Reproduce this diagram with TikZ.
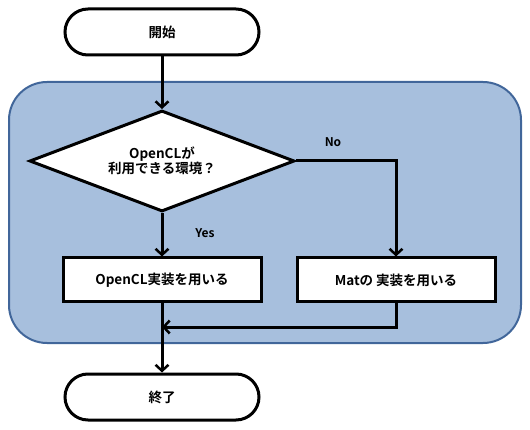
\documentclass[tikz,border=0pt]{standalone}
\usepackage{fontspec}
\setmainfont{Noto Sans CJK JP}[BoldFont={Noto Sans CJK JP Bold}]
\usetikzlibrary{shapes.geometric,arrows.meta}
\definecolor{panelfill}{HTML}{A7BFDD}
\definecolor{panelline}{HTML}{41669A}
\tikzset{
  every node/.style={font=\fontsize{13.5}{16}\selectfont\bfseries},
  term/.style={draw=black,line width=3pt,fill=white,rounded corners=23pt,minimum width=194pt,minimum height=46pt,inner sep=0pt},
  procbox/.style={draw=black,line width=3pt,fill=white,minimum width=198pt,minimum height=44pt,inner sep=0pt},
  decision/.style={draw=black,line width=3pt,fill=white,diamond,aspect=2.62,minimum width=265pt,minimum height=101pt,inner sep=0pt,align=center},
  flow/.style={line width=3pt,-{Straight Barb[length=6pt,width=13pt,line width=2.5pt]}},
  lbl/.style={font=\fontsize{12}{14}\selectfont\bfseries}
}
\begin{document}
\begin{tikzpicture}[x=1pt,y=-1pt]
\useasboundingbox (0,0) rectangle (530,430);
\node[draw=panelline,line width=2pt,fill=panelfill,rounded corners=38pt,minimum width=512pt,minimum height=261pt] (panel) at (265,212.5) {};
\node[term] (start) at (162,32) {開始};
\node[decision] (dec) at (162,161) {OpenCLが\\[-1pt]利用できる環境？};
\node[procbox] (ocl) at (162,280) {OpenCL実装を用いる};
\node[procbox] (mat) at (396,280) {Matの 実装を用いる};
\node[term] (end) at (162,397) {終了};
\coordinate (m) at (162,327);
\node[lbl] (no) at (333,142) {No};
\node[lbl] (yes) at (205,233) {Yes};
\draw[flow] (start) -- (dec);
\draw[flow] (dec) -- (ocl);
\draw[flow] (dec.east) -| (mat.north);
\draw[flow] (mat.south) |- (m);
\draw[flow] (ocl) -- (end);
\end{tikzpicture}
\end{document}
